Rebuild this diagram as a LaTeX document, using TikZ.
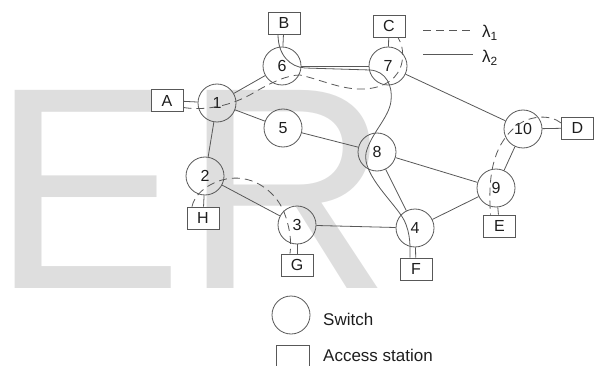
\documentclass[tikz,border=0pt]{standalone}
\usepackage{fontspec}
\setmainfont{Liberation Sans}
\definecolor{linegray}{RGB}{88,88,88}
\definecolor{txt}{RGB}{30,30,30}
\definecolor{markgray}{RGB}{222,222,222}
\begin{document}
\begin{tikzpicture}[x=1pt,y=-1pt,
  link/.style={draw=linegray, line width=0.8pt},
  switch/.style={circle, draw=linegray, line width=0.8pt, minimum size=38pt,
    inner sep=0pt, font=\fontsize{16}{16}\selectfont, text=txt},
  station/.style={rectangle, draw=linegray, fill=white, line width=0.8pt,
    minimum width=32pt, minimum height=22pt, inner sep=0pt,
    font=\fontsize{16}{16}\selectfont, text=txt},
  lamone/.style={draw=linegray, line width=0.8pt, dash pattern=on 8pt off 5pt},
  lamtwo/.style={draw=linegray, line width=0.8pt},
  legtext/.style={anchor=base west, inner sep=0pt, text=txt,
    font=\fontsize{17}{17}\selectfont},
]
\useasboundingbox (0,0) rectangle (596,366);

% large background lettering
\node[anchor=base west, inner sep=0pt, text=markgray,
  font=\fontsize{288}{288}\selectfont] (wm) at (-9,288) {ER};

% switches
\node[switch] (n1)  at (217,103) {1};
\node[switch] (n2)  at (205,176) {2};
\node[switch] (n3)  at (297,225) {3};
\node[switch] (n4)  at (415,228) {4};
\node[switch] (n5)  at (283,128) {5};
\node[switch] (n6)  at (282,66)  {6};
\node[switch] (n7)  at (388,66)  {7};
\node[switch] (n8)  at (377,152) {8};
\node[switch] (n9)  at (496,188) {9};
\node[switch] (n10) at (523,129) {10};

% trunk links
\draw[link] (n1) -- (n6);
\draw[link] (n1) -- (n5);
\draw[link] (n1) -- (n2);
\draw[link] (n2) -- (n3);
\draw[link] (n3) -- (n4);
\draw[link] (n5) -- (n8);
\draw[link] (n8) -- (n4);
\draw[link] (n8) -- (n9);
\draw[link] (n4) -- (n9);
\draw[link] (n9) -- (n10);
\draw[link] (n10) -- (n7);
\draw[link] (n6) -- (n7);

% access stations
\node[station] (A) at (167,100.5) {A};
\node[station] (B) at (284,23)    {B};
\node[station] (C) at (389,26)    {C};
\node[station] (D) at (577.5,128) {D};
\node[station] (E) at (499.5,226) {E};
\node[station] (F) at (416,269)   {F};
\node[station] (G) at (297,265)   {G};
\node[station] (H) at (203,218)   {H};

% access links
\draw[link] (A) -- (n1);
\draw[link] (B) -- (n6);
\draw[link] (C) -- (n7);
\draw[link] (D) -- (n10);
\draw[link] (E) -- (n9);
\draw[link] (F) -- (n4);
\draw[link] (G) -- (n3);
\draw[link] (H) -- (n2);

% lightpaths on wavelength 1
\draw[lamone] ([yshift=-7pt]A.east) .. controls (205,111) and (232,106) .. (255,92)
  .. controls (272,82) and (288,75) .. (300,75)
  .. controls (322,80) and (342,90) .. (364,89)
  .. controls (385,88) and (399,78) .. (402,62)
  .. controls (404,50) and (401,43) .. ([xshift=9pt]C.south);
\draw[lamone] ([xshift=-11pt]H.north) .. controls (194,196) and (205,185) .. (222,180)
  .. controls (250,172) and (275,190) .. (284,212)
  .. controls (289,225) and (292,240) .. ([xshift=-7pt]G.north);
\draw[lamone] ([yshift=5pt]D.west) .. controls (550,114) and (528,115) .. (514,128)
  .. controls (498,143) and (487,165) .. ([xshift=-9pt]E.north);

% lightpath on wavelength 2
\draw[lamtwo] ([xshift=-6pt]B.south) .. controls (278,55) and (290,67) .. (305,68)
  -- (370,70)
  .. controls (386,71) and (393,86) .. (391,101)
  .. controls (389,118) and (371,133) .. (366,153)
  .. controls (362,175) and (395,203) .. (404,220)
  .. controls (411,234) and (410,248) .. ([xshift=-6pt]F.north);

% key
\coordinate (k1a) at (423,30);
\coordinate (k1b) at (473,30);
\coordinate (k2a) at (423,54);
\coordinate (k2b) at (473,54);
\draw[lamone] (k1a) -- (k1b);
\draw[lamtwo] (k2a) -- (k2b);
\node[legtext] (l1) at (482,38) {λ\textsubscript{1}};
\node[legtext] (l2) at (482,63) {λ\textsubscript{2}};

\node[switch] (ks) at (291,315) {};
\node[legtext] (kst) at (323,325) {Switch};
\node[station, minimum height=23pt, minimum width=33pt] (kq) at (292.5,357) {};
\node[legtext] (kqt) at (323,361) {Access station};
\end{tikzpicture}
\end{document}
